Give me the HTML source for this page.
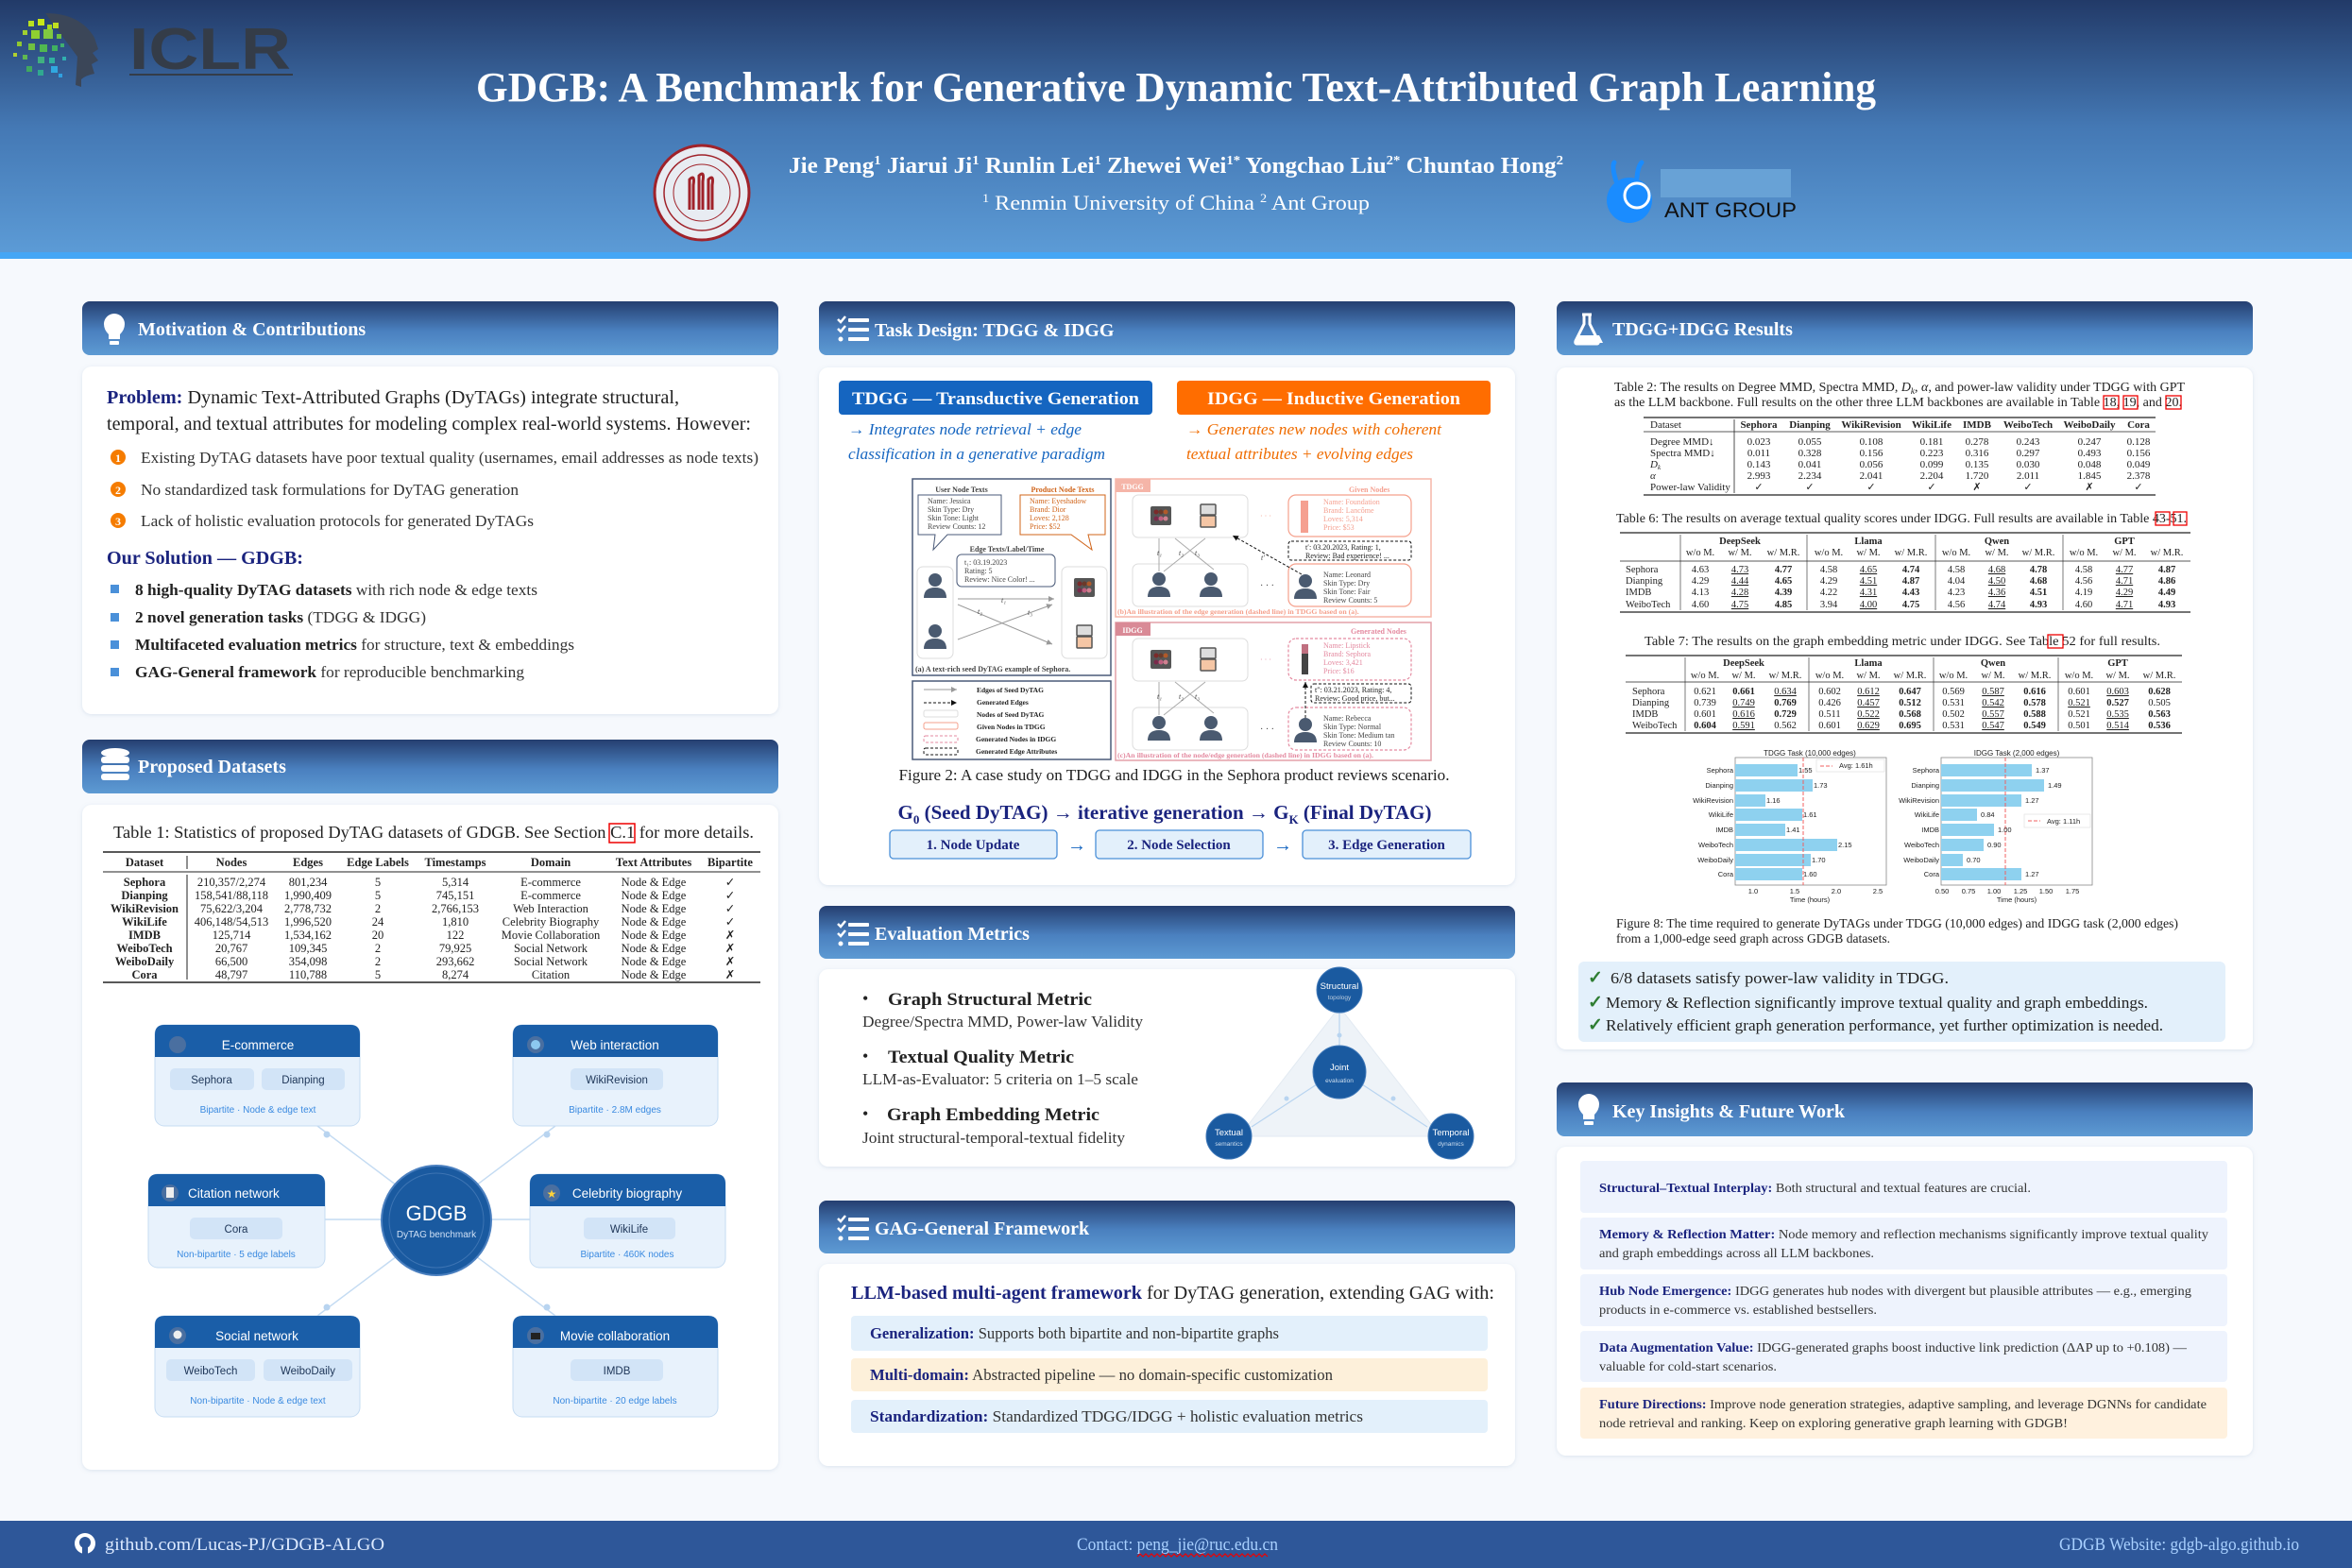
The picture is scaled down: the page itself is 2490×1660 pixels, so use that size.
<!DOCTYPE html>
<html><head><meta charset="utf-8"><style>
html,body{margin:0;padding:0;background:#f6f9fd;}
svg{display:block;}
.s{font-family:"Liberation Serif",serif;}
.a{font-family:"Liberation Sans",sans-serif;}
</style></head><body>
<svg width="2490" height="1660" viewBox="0 0 2490 1660" xmlns="http://www.w3.org/2000/svg" class="s">
<defs>
<linearGradient id="hg" x1="0" y1="0" x2="0" y2="1"><stop offset="0" stop-color="#223a68"/><stop offset="0.5" stop-color="#4478b4"/><stop offset="1" stop-color="#5c9bd6"/></linearGradient>
<linearGradient id="sg" x1="0" y1="0" x2="0" y2="1"><stop offset="0" stop-color="#253f70"/><stop offset="0.55" stop-color="#4a80bf"/><stop offset="1" stop-color="#5d9ad3"/></linearGradient>
<filter id="sh" x="-5%" y="-5%" width="110%" height="110%"><feDropShadow dx="0" dy="1" stdDeviation="2" flood-color="#8aa0c0" flood-opacity="0.25"/></filter>
<marker id="ar" markerWidth="8" markerHeight="8" refX="6" refY="3" orient="auto"><path d="M0,0 L6,3 L0,6" fill="#999"/></marker>
<marker id="ak" markerWidth="8" markerHeight="8" refX="6" refY="3" orient="auto"><path d="M0,0 L6,3 L0,6" fill="#111"/></marker>
<g id="person"><circle cx="0" cy="-9" r="7" fill="#4a5a70"/><path d="M-12,10 Q-12,-1 0,-1 Q12,-1 12,10 Z" fill="#4a5a70"/></g>
<g id="palette"><rect x="-11" y="-10" width="22" height="20" rx="2" fill="#555"/><circle cx="-5" cy="-4" r="2.5" fill="#7a2a2a"/><circle cx="0" cy="-4" r="2.5" fill="#6a3a2a"/><circle cx="5" cy="-4" r="2.5" fill="#b05a2a"/><circle cx="-5" cy="3" r="2.5" fill="#7a2a4a"/><circle cx="0" cy="3" r="2.5" fill="#c06080"/><circle cx="5" cy="3" r="2.5" fill="#d08090"/></g>
<g id="compact"><rect x="-8" y="-12" width="16" height="11" rx="1" fill="#ddd" stroke="#555" stroke-width="1.5"/><rect x="-8" y="0" width="16" height="12" rx="1" fill="#f5c6a5" stroke="#555" stroke-width="1.5"/></g>
</defs>

<!-- HEADER -->
<rect x="0" y="0" width="2490" height="268" fill="url(#hg)"/>
<rect x="0" y="267" width="2490" height="7" fill="#45a6f5"/>
<g>
<path d="M48,14 Q85,14 100,40 L104,52 L98,56 L104,64 L97,68 L100,78 Q90,80 86,84 L86,92 L80,90 L82,60 Z" fill="#3b4658"/>
<rect x="30" y="22" width="6" height="6" fill="#b8e020"/><rect x="40" y="20" width="7" height="7" fill="#c8e818"/><rect x="50" y="26" width="5" height="5" fill="#a8d820"/><rect x="56" y="24" width="6" height="6" fill="#c0e020"/>
<rect x="24" y="32" width="5" height="5" fill="#a0d030"/><rect x="33" y="32" width="9" height="9" fill="#90d030"/><rect x="46" y="31" width="10" height="10" fill="#80c840"/><rect x="60" y="36" width="5" height="5" fill="#70c040"/>
<rect x="18" y="44" width="5" height="5" fill="#90c830"/><rect x="30" y="46" width="7" height="7" fill="#70c040"/><rect x="42" y="47" width="8" height="8" fill="#50b850"/><rect x="55" y="48" width="6" height="6" fill="#40b060"/><rect x="64" y="46" width="4" height="4" fill="#40b070"/>
<rect x="14" y="56" width="4" height="4" fill="#b0d030"/><rect x="24" y="58" width="5" height="5" fill="#60b850"/><rect x="40" y="60" width="7" height="7" fill="#40b080"/><rect x="52" y="61" width="6" height="6" fill="#30b0a0"/><rect x="66" y="60" width="4" height="4" fill="#30b0b0"/>
<rect x="28" y="70" width="6" height="6" fill="#40a860"/><rect x="40" y="74" width="6" height="6" fill="#30a890"/><rect x="54" y="70" width="7" height="7" fill="#30a8e0"/><rect x="62" y="78" width="4" height="4" fill="#30a0e0"/>
<text x="137" y="73" class="a" font-size="62" font-weight="bold" fill="#343c48" textLength="171" lengthAdjust="spacingAndGlyphs">ICLR</text>
<rect x="137" y="78" width="173" height="2" fill="#343c48"/>
</g>
<text x="1245" y="107" text-anchor="middle" font-size="44" font-weight="bold" fill="#fff" textLength="1482" lengthAdjust="spacingAndGlyphs">GDGB: A Benchmark for Generative Dynamic Text-Attributed Graph Learning</text>
<g>
<circle cx="743" cy="204" r="50" fill="#e8ecf2" stroke="#a0222a" stroke-width="3"/>
<circle cx="743" cy="204" r="40" fill="none" stroke="#a0222a" stroke-width="1.5"/>
<circle cx="743" cy="204" r="30" fill="none" stroke="#a0222a" stroke-width="1"/>
<path d="M730,222 L730,190 Q736,184 734,196 L734,222 M740,222 L740,186 Q746,180 744,192 L744,222 M750,222 L750,190 Q756,184 754,196 L754,222" stroke="#a0222a" stroke-width="3" fill="none"/>
</g>
<text x="1245" y="183" text-anchor="middle" font-size="24" font-weight="bold" fill="#fff" textLength="820" lengthAdjust="spacingAndGlyphs">Jie Peng<tspan font-size="14" dy="-9">1</tspan><tspan dy="9">  Jiarui Ji</tspan><tspan font-size="14" dy="-9">1</tspan><tspan dy="9">  Runlin Lei</tspan><tspan font-size="14" dy="-9">1</tspan><tspan dy="9">  Zhewei Wei</tspan><tspan font-size="14" dy="-9">1*</tspan><tspan dy="9">  Yongchao Liu</tspan><tspan font-size="14" dy="-9">2*</tspan><tspan dy="9">  Chuntao Hong</tspan><tspan font-size="14" dy="-9">2</tspan></text>
<text x="1245" y="222" text-anchor="middle" font-size="22" fill="#fff" textLength="410" lengthAdjust="spacingAndGlyphs"><tspan font-size="13" dy="-8">1</tspan><tspan dy="8"> Renmin University of China    </tspan><tspan font-size="13" dy="-8">2</tspan><tspan dy="8"> Ant Group</tspan></text>
<path d="M1711,192 Q1706,176 1709,172 M1733,188 Q1734,176 1738,172" stroke="#1a8cff" stroke-width="5" fill="none" stroke-linecap="round"/>
<circle cx="1725" cy="212" r="24" fill="#1a8cff"/>
<circle cx="1733" cy="207" r="13" fill="none" stroke="#fff" stroke-width="3"/>
<rect x="1758" y="179" width="138" height="30" fill="#68a2d6"/>
<text x="1762" y="230" class="a" font-size="22" fill="#111" textLength="140" lengthAdjust="spacingAndGlyphs">ANT GROUP</text>

<!-- SECTION HEADERS -->
<g>
<rect x="87" y="319" width="737" height="57" rx="8" fill="url(#sg)"/>
<rect x="87" y="783" width="737" height="57" rx="8" fill="url(#sg)"/>
<rect x="867" y="319" width="737" height="57" rx="8" fill="url(#sg)"/>
<rect x="867" y="959" width="737" height="56" rx="8" fill="url(#sg)"/>
<rect x="867" y="1271" width="737" height="56" rx="8" fill="url(#sg)"/>
<rect x="1648" y="319" width="737" height="57" rx="8" fill="url(#sg)"/>
<rect x="1648" y="1146" width="737" height="57" rx="8" fill="url(#sg)"/>
</g>
<g fill="#fff">
<path d="M121,332 a11,11 0 0 1 11,11 q0,6 -5,11 l0,5 l-12,0 l0,-5 q-5,-5 -5,-11 a11,11 0 0 1 11,-11z"/><rect x="116" y="361" width="10" height="4" rx="1"/>
<path d="M121,1158 a11,11 0 0 1 11,11 q0,6 -5,11 l0,5 l-12,0 l0,-5 q-5,-5 -5,-11 a11,11 0 0 1 11,-11z" transform="translate(1561,0)"/><rect x="1677" y="1187" width="10" height="4" rx="1"/>
<ellipse cx="122" cy="797" rx="15" ry="5"/><rect x="107" y="801" width="30" height="7" rx="3"/><rect x="107" y="810" width="30" height="7" rx="3"/><rect x="107" y="819" width="30" height="7" rx="3"/>
<path d="M1675,333 l10,0 m-8,0 l0,10 l-9,18 q-1,3 2,3 l20,0 q3,0 2,-3 l-9,-18 l0,-10" stroke="#fff" stroke-width="3" fill="none"/><path d="M1671,355 l22,0 l4,8 l-30,0z"/>
</g>
<g id="chk" fill="#fff">
<path d="M887,338 l3,3 l5,-6" stroke="#fff" stroke-width="2.5" fill="none"/><rect x="898" y="337" width="22" height="4" rx="1"/>
<path d="M887,348 l3,3 l5,-6" stroke="#fff" stroke-width="2.5" fill="none"/><rect x="898" y="347" width="22" height="4" rx="1"/>
<circle cx="890" cy="359" r="2.5"/><rect x="898" y="357" width="22" height="4" rx="1"/>
</g>
<use href="#chk" transform="translate(0,640)"/>
<use href="#chk" transform="translate(0,952)"/>
<g font-size="20" font-weight="bold" fill="#fff">
<text x="146" y="355">Motivation &amp; Contributions</text>
<text x="146" y="818">Proposed Datasets</text>
<text x="926" y="356">Task Design: TDGG &amp; IDGG</text>
<text x="926" y="995">Evaluation Metrics</text>
<text x="926" y="1307">GAG-General Framework</text>
<text x="1707" y="355">TDGG+IDGG Results</text>
<text x="1707" y="1183">Key Insights &amp; Future Work</text>
</g>

<g fill="#fff" filter="url(#sh)">
<rect x="87" y="388" width="737" height="368" rx="10"/>
<rect x="87" y="852" width="737" height="704" rx="10"/>
<rect x="867" y="389" width="737" height="548" rx="10"/>
<rect x="867" y="1026" width="737" height="209" rx="10"/>
<rect x="867" y="1338" width="737" height="214" rx="10"/>
<rect x="1648" y="389" width="737" height="722" rx="10"/>
<rect x="1648" y="1214" width="737" height="327" rx="10"/>
</g>

<!-- MOTIVATION -->
<text x="113" y="427" font-size="20" fill="#222" textLength="606" lengthAdjust="spacingAndGlyphs"><tspan font-weight="bold" fill="#1a237e">Problem:</tspan> Dynamic Text-Attributed Graphs (DyTAGs) integrate structural,</text>
<text x="113" y="455" font-size="20" fill="#222" textLength="682" lengthAdjust="spacingAndGlyphs">temporal, and textual attributes for modeling complex real-world systems. However:</text>
<g font-size="17" fill="#333">
<circle cx="125" cy="484" r="8" fill="#f57c00"/><text x="125" y="489" text-anchor="middle" font-size="12" font-weight="bold" fill="#fff">1</text>
<text x="149" y="490" textLength="654" lengthAdjust="spacingAndGlyphs">Existing DyTAG datasets have poor textual quality (usernames, email addresses as node texts)</text>
<circle cx="125" cy="518" r="8" fill="#f57c00"/><text x="125" y="523" text-anchor="middle" font-size="12" font-weight="bold" fill="#fff">2</text>
<text x="149" y="524" textLength="400" lengthAdjust="spacingAndGlyphs">No standardized task formulations for DyTAG generation</text>
<circle cx="125" cy="551" r="8" fill="#f57c00"/><text x="125" y="556" text-anchor="middle" font-size="12" font-weight="bold" fill="#fff">3</text>
<text x="149" y="557" textLength="416" lengthAdjust="spacingAndGlyphs">Lack of holistic evaluation protocols for generated DyTAGs</text>
</g>
<text x="113" y="597" font-size="20" font-weight="bold" fill="#1a237e" textLength="208" lengthAdjust="spacingAndGlyphs">Our Solution — GDGB:</text>
<g font-size="17" fill="#333">
<rect x="117" y="619" width="9" height="9" fill="#4a90d9"/><text x="143" y="630" textLength="426" lengthAdjust="spacingAndGlyphs"><tspan font-weight="bold" fill="#222">8 high-quality DyTAG datasets</tspan> with rich node &amp; edge texts</text>
<rect x="117" y="649" width="9" height="9" fill="#4a90d9"/><text x="143" y="659" textLength="308" lengthAdjust="spacingAndGlyphs"><tspan font-weight="bold" fill="#222">2 novel generation tasks</tspan> (TDGG &amp; IDGG)</text>
<rect x="117" y="678" width="9" height="9" fill="#4a90d9"/><text x="143" y="688" textLength="465" lengthAdjust="spacingAndGlyphs"><tspan font-weight="bold" fill="#222">Multifaceted evaluation metrics</tspan> for structure, text &amp; embeddings</text>
<rect x="117" y="707" width="9" height="9" fill="#4a90d9"/><text x="143" y="717" textLength="412" lengthAdjust="spacingAndGlyphs"><tspan font-weight="bold" fill="#222">GAG-General framework</tspan> for reproducible benchmarking</text>
</g>

<!-- TABLE 1 -->
<text x="120" y="887" font-size="17.5" fill="#222" textLength="678" lengthAdjust="spacingAndGlyphs">Table 1: Statistics of proposed DyTAG datasets of GDGB. See Section C.1 for more details.</text>
<rect x="645" y="872" width="27" height="20" fill="none" stroke="#e00" stroke-width="1.5"/>
<line x1="109" y1="902" x2="805" y2="902" stroke="#222" stroke-width="1.5"/>
<line x1="109" y1="923" x2="805" y2="923" stroke="#222" stroke-width="1"/>
<line x1="109" y1="1040" x2="805" y2="1040" stroke="#222" stroke-width="1.5"/>
<line x1="198" y1="906" x2="198" y2="920" stroke="#222"/><line x1="198" y1="926" x2="198" y2="1037" stroke="#222"/>
<g font-size="12.5" fill="#222" text-anchor="middle">
<g font-weight="bold"><text x="153" y="917">Dataset</text><text x="245" y="917">Nodes</text><text x="326" y="917">Edges</text><text x="400" y="917">Edge Labels</text><text x="482" y="917">Timestamps</text><text x="583" y="917">Domain</text><text x="692" y="917">Text Attributes</text><text x="773" y="917">Bipartite</text></g>
<g font-weight="bold"><text x="153" y="938">Sephora</text><text x="153" y="952">Dianping</text><text x="153" y="966">WikiRevision</text><text x="153" y="980">WikiLife</text><text x="153" y="994">IMDB</text><text x="153" y="1008">WeiboTech</text><text x="153" y="1022">WeiboDaily</text><text x="153" y="1036">Cora</text></g>
<text x="245" y="938">210,357/2,274</text><text x="245" y="952">158,541/88,118</text><text x="245" y="966">75,622/3,204</text><text x="245" y="980">406,148/54,513</text><text x="245" y="994">125,714</text><text x="245" y="1008">20,767</text><text x="245" y="1022">66,500</text><text x="245" y="1036">48,797</text>
<text x="326" y="938">801,234</text><text x="326" y="952">1,990,409</text><text x="326" y="966">2,778,732</text><text x="326" y="980">1,996,520</text><text x="326" y="994">1,534,162</text><text x="326" y="1008">109,345</text><text x="326" y="1022">354,098</text><text x="326" y="1036">110,788</text>
<text x="400" y="938">5</text><text x="400" y="952">5</text><text x="400" y="966">2</text><text x="400" y="980">24</text><text x="400" y="994">20</text><text x="400" y="1008">2</text><text x="400" y="1022">2</text><text x="400" y="1036">5</text>
<text x="482" y="938">5,314</text><text x="482" y="952">745,151</text><text x="482" y="966">2,766,153</text><text x="482" y="980">1,810</text><text x="482" y="994">122</text><text x="482" y="1008">79,925</text><text x="482" y="1022">293,662</text><text x="482" y="1036">8,274</text>
<text x="583" y="938">E-commerce</text><text x="583" y="952">E-commerce</text><text x="583" y="966">Web Interaction</text><text x="583" y="980">Celebrity Biography</text><text x="583" y="994">Movie Collaboration</text><text x="583" y="1008">Social Network</text><text x="583" y="1022">Social Network</text><text x="583" y="1036">Citation</text>
<text x="692" y="938">Node &amp; Edge</text><text x="692" y="952">Node &amp; Edge</text><text x="692" y="966">Node &amp; Edge</text><text x="692" y="980">Node &amp; Edge</text><text x="692" y="994">Node &amp; Edge</text><text x="692" y="1008">Node &amp; Edge</text><text x="692" y="1022">Node &amp; Edge</text><text x="692" y="1036">Node &amp; Edge</text>
<text x="773" y="938">✓</text><text x="773" y="952">✓</text><text x="773" y="966">✓</text><text x="773" y="980">✓</text><text x="773" y="994">✗</text><text x="773" y="1008">✗</text><text x="773" y="1022">✗</text><text x="773" y="1036">✗</text>
</g>

<!-- DATASET DIAGRAM -->
<g stroke="#c4dbf2" stroke-width="1.5">
<line x1="336" y1="1192" x2="420" y2="1255"/><line x1="588" y1="1192" x2="504" y2="1255"/>
<line x1="344" y1="1291" x2="404" y2="1291"/><line x1="520" y1="1291" x2="561" y2="1291"/>
<line x1="336" y1="1393" x2="420" y2="1330"/><line x1="588" y1="1393" x2="504" y2="1330"/>
</g>
<g fill="#b8d4f0"><circle cx="346" cy="1201" r="3.5"/><circle cx="579" cy="1201" r="3.5"/><circle cx="336" cy="1291" r="3.5"/><circle cx="588" cy="1291" r="3.5"/><circle cx="346" cy="1384" r="3.5"/><circle cx="579" cy="1384" r="3.5"/></g>
<circle cx="462" cy="1292" r="58" fill="#1a5aa0" stroke="#4a7fbf" stroke-width="2"/>
<circle cx="462" cy="1292" r="50" fill="none" stroke="#3d74b3" stroke-width="1"/>
<text x="462" y="1292" text-anchor="middle" class="a" font-size="22" fill="#fff">GDGB</text>
<text x="462" y="1310" text-anchor="middle" class="a" font-size="10" fill="#cfe0f5">DyTAG benchmark</text>

<g class="a">
<rect x="164" y="1085" width="217" height="107" rx="10" fill="#e8f2fc" stroke="#c6dcf2"/>
<path d="M164,1119 L164,1095 Q164,1085 174,1085 L371,1085 Q381,1085 381,1095 L381,1119 Z" fill="#1a5ea8"/>
<circle cx="188" cy="1106" r="9" fill="#4a6fa0"/>
<text x="273" y="1111" text-anchor="middle" font-size="13.5" fill="#fff">E-commerce</text>
<rect x="180" y="1131" width="89" height="23" rx="5" fill="#d2e4f7"/><text x="224" y="1147" text-anchor="middle" font-size="11.5" fill="#1d3557">Sephora</text>
<rect x="277" y="1131" width="88" height="23" rx="5" fill="#d2e4f7"/><text x="321" y="1147" text-anchor="middle" font-size="11.5" fill="#1d3557">Dianping</text>
<text x="273" y="1178" text-anchor="middle" font-size="10" fill="#3a8ae0">Bipartite · Node &amp; edge text</text>
<rect x="543" y="1085" width="217" height="107" rx="10" fill="#e8f2fc" stroke="#c6dcf2"/>
<path d="M543,1119 L543,1095 Q543,1085 553,1085 L750,1085 Q760,1085 760,1095 L760,1119 Z" fill="#1a5ea8"/>
<circle cx="567" cy="1106" r="9" fill="#4a6fa0"/><circle cx="567" cy="1106" r="5" fill="#8cc8f0"/>
<text x="651" y="1111" text-anchor="middle" font-size="13.5" fill="#fff">Web interaction</text>
<rect x="604" y="1131" width="98" height="23" rx="5" fill="#d2e4f7"/><text x="653" y="1147" text-anchor="middle" font-size="11.5" fill="#1d3557">WikiRevision</text>
<text x="651" y="1178" text-anchor="middle" font-size="10" fill="#3a8ae0">Bipartite · 2.8M edges</text>
<rect x="157" y="1243" width="187" height="99" rx="10" fill="#e8f2fc" stroke="#c6dcf2"/>
<path d="M157,1277 L157,1253 Q157,1243 167,1243 L334,1243 Q344,1243 344,1253 L344,1277 Z" fill="#1a5ea8"/>
<circle cx="180" cy="1263" r="9" fill="#4a6fa0"/><rect x="176" y="1257" width="8" height="11" fill="#eee"/>
<text x="199" y="1268" font-size="13.5" fill="#fff">Citation network</text>
<rect x="201" y="1289" width="98" height="23" rx="5" fill="#d2e4f7"/><text x="250" y="1305" text-anchor="middle" font-size="11.5" fill="#1d3557">Cora</text>
<text x="250" y="1331" text-anchor="middle" font-size="10" fill="#3a8ae0">Non-bipartite · 5 edge labels</text>
<rect x="561" y="1243" width="207" height="99" rx="10" fill="#e8f2fc" stroke="#c6dcf2"/>
<path d="M561,1277 L561,1253 Q561,1243 571,1243 L758,1243 Q768,1243 768,1253 L768,1277 Z" fill="#1a5ea8"/>
<circle cx="584" cy="1263" r="9" fill="#4a6fa0"/><text x="584" y="1268" text-anchor="middle" font-size="12" fill="#ffd23a">★</text>
<text x="664" y="1268" text-anchor="middle" font-size="13.5" fill="#fff">Celebrity biography</text>
<rect x="618" y="1289" width="97" height="23" rx="5" fill="#d2e4f7"/><text x="666" y="1305" text-anchor="middle" font-size="11.5" fill="#1d3557">WikiLife</text>
<text x="664" y="1331" text-anchor="middle" font-size="10" fill="#3a8ae0">Bipartite · 460K nodes</text>
<rect x="164" y="1393" width="217" height="107" rx="10" fill="#e8f2fc" stroke="#c6dcf2"/>
<path d="M164,1427 L164,1403 Q164,1393 174,1393 L371,1393 Q381,1393 381,1403 L381,1427 Z" fill="#1a5ea8"/>
<circle cx="188" cy="1414" r="9" fill="#4a6fa0"/><circle cx="188" cy="1413" r="4.5" fill="#eee"/>
<text x="272" y="1419" text-anchor="middle" font-size="13.5" fill="#fff">Social network</text>
<rect x="176" y="1439" width="94" height="23" rx="5" fill="#d2e4f7"/><text x="223" y="1455" text-anchor="middle" font-size="11.5" fill="#1d3557">WeiboTech</text>
<rect x="279" y="1439" width="94" height="23" rx="5" fill="#d2e4f7"/><text x="326" y="1455" text-anchor="middle" font-size="11.5" fill="#1d3557">WeiboDaily</text>
<text x="273" y="1486" text-anchor="middle" font-size="10" fill="#3a8ae0">Non-bipartite · Node &amp; edge text</text>
<rect x="543" y="1393" width="217" height="107" rx="10" fill="#e8f2fc" stroke="#c6dcf2"/>
<path d="M543,1427 L543,1403 Q543,1393 553,1393 L750,1393 Q760,1393 760,1403 L760,1427 Z" fill="#1a5ea8"/>
<circle cx="567" cy="1414" r="9" fill="#4a6fa0"/><rect x="562" y="1411" width="10" height="7" fill="#222"/>
<text x="651" y="1419" text-anchor="middle" font-size="13.5" fill="#fff">Movie collaboration</text>
<rect x="604" y="1439" width="98" height="23" rx="5" fill="#d2e4f7"/><text x="653" y="1455" text-anchor="middle" font-size="11.5" fill="#1d3557">IMDB</text>
<text x="651" y="1486" text-anchor="middle" font-size="10" fill="#3a8ae0">Non-bipartite · 20 edge labels</text>
</g>

<!-- TASK DESIGN -->
<rect x="888" y="403" width="332" height="36" rx="4" fill="#1565c0"/>
<text x="1054" y="428" text-anchor="middle" font-size="19" font-weight="bold" fill="#fff" textLength="304" lengthAdjust="spacingAndGlyphs">TDGG — Transductive Generation</text>
<rect x="1246" y="403" width="332" height="36" rx="4" fill="#ff6d00"/>
<text x="1412" y="428" text-anchor="middle" font-size="19" font-weight="bold" fill="#fff" textLength="268" lengthAdjust="spacingAndGlyphs">IDGG — Inductive Generation</text>
<g font-size="17" font-style="italic">
<text x="898" y="460" fill="#1565c0" textLength="247" lengthAdjust="spacingAndGlyphs">→ Integrates node retrieval + edge</text>
<text x="898" y="486" fill="#1565c0" textLength="272" lengthAdjust="spacingAndGlyphs">classification in a generative paradigm</text>
<text x="1256" y="460" fill="#ef6c00" textLength="270" lengthAdjust="spacingAndGlyphs">→ Generates new nodes with coherent</text>
<text x="1256" y="486" fill="#ef6c00" textLength="240" lengthAdjust="spacingAndGlyphs">textual attributes + evolving edges</text>
</g>

<!-- FIGURE 2 -->
<g font-size="8" fill="#444">
<rect x="966" y="507" width="210" height="208" fill="none" stroke="#4a5a78" stroke-width="1.5"/>
<text x="1018" y="521" text-anchor="middle" font-weight="bold" fill="#444">User Node Texts</text>
<text x="1125" y="521" text-anchor="middle" font-weight="bold" fill="#d0641a">Product Node Texts</text>
<path d="M972,524 h88 v42 h-57 l-15,16 l2,-16 h-18 z" fill="#fff" stroke="#4a5a78"/>
<text x="982" y="533">Name: Jessica</text><text x="982" y="542">Skin Type: Dry</text><text x="982" y="551">Skin Tone: Light</text><text x="982" y="560">Review Counts: 12</text>
<path d="M1080,524 h90 v42 h-18 l4,16 l-22,-16 h-54 z" fill="#fff" stroke="#d0641a"/>
<g fill="#d0641a"><text x="1090" y="533">Name: Eyeshadow</text><text x="1090" y="542">Brand: Dior</text><text x="1090" y="551">Loves: 2,128</text><text x="1090" y="560">Price: $52</text></g>
<text x="1066" y="584" text-anchor="middle" font-weight="bold">Edge Texts/Label/Time</text>
<rect x="1013" y="587" width="104" height="34" rx="5" fill="#fff" stroke="#4a5a78"/>
<text x="1021" y="598">t₁: 03.19.2023</text><text x="1021" y="607">Rating: 5</text><text x="1021" y="616">Review: Nice Color! ...</text>
<rect x="971" y="600" width="38" height="97" rx="6" fill="none" stroke="#ddd"/>
<rect x="1124" y="600" width="48" height="97" rx="6" fill="none" stroke="#ddd"/>
<use href="#person" x="990" y="623"/><use href="#person" x="990" y="677"/>
<use href="#palette" x="1148" y="622"/><use href="#compact" x="1148" y="674"/>
<g stroke="#999" stroke-width="1"><line x1="1014" y1="634" x2="1116" y2="634" marker-end="url(#ar)"/><line x1="1014" y1="640" x2="1114" y2="682" marker-end="url(#ar)"/><line x1="1014" y1="677" x2="1114" y2="640" marker-end="url(#ar)"/></g>
<text x="1060" y="638" font-size="8" font-style="italic">t₁</text><text x="1035" y="650" font-style="italic">t₂</text><text x="1088" y="651" font-style="italic">t₃</text>
<text x="969" y="711" font-size="8" font-weight="bold">(a) A text-rich seed DyTAG example of Sephora.</text>

<rect x="966" y="721" width="210" height="83" fill="none" stroke="#4a5a78" stroke-width="1.5"/>
<line x1="978" y1="730" x2="1013" y2="730" stroke="#999" marker-end="url(#ar)"/>
<line x1="978" y1="744" x2="1013" y2="744" stroke="#111" stroke-dasharray="3,2" marker-end="url(#ak)"/>
<rect x="978" y="752" width="36" height="7" rx="2" fill="none" stroke="#ddd"/>
<rect x="978" y="765" width="36" height="7" rx="2" fill="none" stroke="#f5a08c"/>
<rect x="978" y="779" width="36" height="7" rx="2" fill="none" stroke="#e48aa0" stroke-dasharray="3,2"/>
<rect x="978" y="792" width="36" height="7" rx="2" fill="none" stroke="#111" stroke-dasharray="3,2"/>
<g font-weight="bold" font-size="7.5" fill="#222"><text x="1034" y="733">Edges of Seed DyTAG</text><text x="1034" y="746">Generated Edges</text><text x="1034" y="759">Nodes of Seed DyTAG</text><text x="1034" y="772">Given Nodes in TDGG</text><text x="1033" y="785">Generated Nodes in IDGG</text><text x="1033" y="798">Generated Edge Attributes</text></g>

<rect x="1181" y="507" width="334" height="146" fill="none" stroke="#f5b5a8" stroke-width="1.5"/>
<rect x="1181" y="507" width="37" height="14" fill="#f5b5a8"/><text x="1199" y="518" text-anchor="middle" fill="#fff" font-weight="bold">TDGG</text>
<rect x="1199" y="524" width="122" height="45" rx="6" fill="none" stroke="#ddd"/>
<rect x="1199" y="597" width="122" height="45" rx="6" fill="none" stroke="#ddd"/>
<use href="#palette" x="1229" y="546"/><use href="#compact" x="1279" y="546"/>
<use href="#person" x="1227" y="622"/><use href="#person" x="1282" y="622"/>
<g stroke="#aaa"><line x1="1227" y1="605" x2="1227" y2="570"/><line x1="1232" y1="605" x2="1276" y2="570"/><line x1="1244" y1="570" x2="1285" y2="603"/></g>
<text x="1225" y="588" font-style="italic">t₁</text><text x="1248" y="588" font-style="italic">t₂</text><text x="1265" y="588" font-style="italic">t₃</text>
<text x="1334" y="549" fill="#f5a08c">· · ·</text><text x="1334" y="623" font-size="10">· · ·</text>
<rect x="1364" y="524" width="130" height="44" rx="8" fill="none" stroke="#f5a08c" stroke-width="1.2"/>
<rect x="1377" y="530" width="8" height="34" fill="#f5a090"/>
<g fill="#f5a090"><text x="1428" y="521" font-weight="bold">Given Nodes</text><text x="1401" y="534">Name: Foundation</text><text x="1401" y="543">Brand: Lancôme</text><text x="1401" y="552">Loves: 5,314</text><text x="1401" y="561">Price: $53</text></g>
<rect x="1364" y="573" width="130" height="20" rx="3" fill="none" stroke="#111" stroke-dasharray="3,2"/>
<text x="1382" y="582" fill="#222">t′: 03.20.2023, Rating: 1,</text><text x="1382" y="591" fill="#222">Review: Bad experience! ...</text>
<rect x="1364" y="597" width="130" height="45" rx="8" fill="none" stroke="#f5a08c" stroke-width="1.2"/>
<use href="#person" x="1382" y="624"/>
<text x="1401" y="611">Name: Leonard</text><text x="1401" y="620">Skin Type: Dry</text><text x="1401" y="629">Skin Tone: Fair</text><text x="1401" y="638">Review Counts: 5</text>
<line x1="1378" y1="608" x2="1305" y2="567" stroke="#111" stroke-dasharray="3,2" marker-end="url(#ak)"/>
<text x="1335" y="593" font-style="italic">t′</text>
<text x="1183" y="650" font-size="7.8" fill="#f5a08c" font-weight="bold">(b)An illustration of the edge generation (dashed line) in TDGG based on (a).</text>

<rect x="1181" y="659" width="334" height="146" fill="none" stroke="#e4a0a8" stroke-width="1.5"/>
<rect x="1181" y="659" width="37" height="14" fill="#d98a96"/><text x="1199" y="670" text-anchor="middle" fill="#fff" font-weight="bold">IDGG</text>
<rect x="1199" y="676" width="122" height="45" rx="6" fill="none" stroke="#ddd"/>
<rect x="1199" y="749" width="122" height="45" rx="6" fill="none" stroke="#ddd"/>
<use href="#palette" x="1229" y="698"/><use href="#compact" x="1279" y="698"/>
<use href="#person" x="1227" y="774"/><use href="#person" x="1282" y="774"/>
<g stroke="#aaa"><line x1="1227" y1="757" x2="1227" y2="722"/><line x1="1232" y1="757" x2="1276" y2="722"/><line x1="1244" y1="722" x2="1285" y2="755"/></g>
<text x="1225" y="740" font-style="italic">t₁</text><text x="1248" y="740" font-style="italic">t₂</text><text x="1265" y="740" font-style="italic">t₃</text>
<text x="1334" y="701" fill="#e48aa0">· · ·</text><text x="1334" y="775" font-size="10">· · ·</text>
<rect x="1364" y="676" width="130" height="44" rx="8" fill="none" stroke="#e48aa0" stroke-dasharray="3,2" stroke-width="1.2"/>
<rect x="1378" y="682" width="7" height="32" fill="#444"/><rect x="1378" y="682" width="7" height="10" fill="#c07080"/>
<g fill="#e48aa0"><text x="1430" y="671" font-weight="bold">Generated Nodes</text><text x="1401" y="686">Name: Lipstick</text><text x="1401" y="695">Brand: Sephora</text><text x="1401" y="704">Loves: 3,421</text><text x="1401" y="713">Price: $16</text></g>
<rect x="1388" y="724" width="106" height="20" rx="3" fill="none" stroke="#111" stroke-dasharray="3,2"/>
<text x="1392" y="733" fill="#222">t″: 03.21.2023, Rating: 4,</text><text x="1392" y="742" fill="#222">Review: Good price, but...</text>
<rect x="1364" y="749" width="130" height="45" rx="8" fill="none" stroke="#e48aa0" stroke-dasharray="3,2" stroke-width="1.2"/>
<use href="#person" x="1382" y="776"/>
<text x="1401" y="763">Name: Rebecca</text><text x="1401" y="772">Skin Type: Normal</text><text x="1401" y="781">Skin Tone: Medium tan</text><text x="1401" y="790">Review Counts: 10</text>
<line x1="1382" y1="760" x2="1382" y2="722" stroke="#111" stroke-dasharray="3,2" marker-end="url(#ak)"/>
<text x="1183" y="802" font-size="7.8" fill="#e48aa0" font-weight="bold">(c)An illustration of the node/edge generation (dashed line) in IDGG based on (a).</text>
</g>
<text x="1243" y="826" text-anchor="middle" font-size="16.5" fill="#222" textLength="583" lengthAdjust="spacingAndGlyphs">Figure 2: A case study on TDGG and IDGG in the Sephora product reviews scenario.</text>
<text x="1233" y="867" text-anchor="middle" font-size="21" font-weight="bold" fill="#1a237e" textLength="565" lengthAdjust="spacingAndGlyphs">G<tspan font-size="13" dy="5">0</tspan><tspan dy="-5"> (Seed DyTAG)  →  iterative generation  →  G</tspan><tspan font-size="13" dy="5">K</tspan><tspan dy="-5"> (Final DyTAG)</tspan></text>
<g font-size="15" font-weight="bold" fill="#1a237e" text-anchor="middle">
<rect x="942" y="879" width="177" height="30" rx="4" fill="#e3f0fb" stroke="#4a8fd8" stroke-width="1.3"/><text x="1030" y="899">1. Node Update</text>
<rect x="1160" y="879" width="177" height="30" rx="4" fill="#e3f0fb" stroke="#4a8fd8" stroke-width="1.3"/><text x="1248" y="899">2. Node Selection</text>
<rect x="1379" y="879" width="178" height="30" rx="4" fill="#e3f0fb" stroke="#4a8fd8" stroke-width="1.3"/><text x="1468" y="899">3. Edge Generation</text>
<text x="1140" y="901" fill="#1565c0" font-size="20">→</text><text x="1358" y="901" fill="#1565c0" font-size="20">→</text>
</g>

<!-- EVALUATION METRICS -->
<g fill="#222">
<text x="913" y="1063" font-size="18">•</text><text x="940" y="1064" font-size="19" font-weight="bold" textLength="216" lengthAdjust="spacingAndGlyphs">Graph Structural Metric</text>
<text x="913" y="1087" font-size="16.5" fill="#333" textLength="297" lengthAdjust="spacingAndGlyphs">Degree/Spectra MMD, Power-law Validity</text>
<text x="913" y="1124" font-size="18">•</text><text x="940" y="1125" font-size="19" font-weight="bold" textLength="197" lengthAdjust="spacingAndGlyphs">Textual Quality Metric</text>
<text x="913" y="1148" font-size="16.5" fill="#333" textLength="292" lengthAdjust="spacingAndGlyphs">LLM-as-Evaluator: 5 criteria on 1–5 scale</text>
<text x="913" y="1185" font-size="18">•</text><text x="939" y="1186" font-size="19" font-weight="bold" textLength="225" lengthAdjust="spacingAndGlyphs">Graph Embedding Metric</text>
<text x="913" y="1210" font-size="16.5" fill="#333" textLength="278" lengthAdjust="spacingAndGlyphs">Joint structural-temporal-textual fidelity</text>
</g>
<path d="M1418,1066 L1312,1203 L1525,1203 Z" fill="#eef3f8" stroke="#e2eaf2"/>
<g stroke="#b8d4f0" stroke-width="1.2"><line x1="1418" y1="1072" x2="1418" y2="1107"/><line x1="1394" y1="1148" x2="1325" y2="1193"/><line x1="1442" y1="1148" x2="1511" y2="1193"/></g>
<g fill="#b8d4f0"><circle cx="1418" cy="1096" r="2.5"/><circle cx="1362" cy="1163" r="2.5"/><circle cx="1475" cy="1163" r="2.5"/></g>
<g class="a" text-anchor="middle" fill="#fff">
<circle cx="1418" cy="1048" r="24" fill="#1a5aa0" stroke="#3f78b8"/><text x="1418" y="1047" font-size="9.5">Structural</text><text x="1418" y="1058" font-size="6.5" fill="#bcd">topology</text>
<circle cx="1418" cy="1135" r="28" fill="#1a5aa0" stroke="#3f78b8"/><text x="1418" y="1133" font-size="9.5">Joint</text><text x="1418" y="1146" font-size="6.5" fill="#cde">evaluation</text>
<circle cx="1301" cy="1203" r="24" fill="#1a5aa0" stroke="#3f78b8"/><text x="1301" y="1202" font-size="9.5">Textual</text><text x="1301" y="1213" font-size="6.5" fill="#cde">semantics</text>
<circle cx="1536" cy="1203" r="24" fill="#1a5aa0" stroke="#3f78b8"/><text x="1536" y="1202" font-size="9.5">Temporal</text><text x="1536" y="1213" font-size="6.5" fill="#cde">dynamics</text>
</g>

<!-- GAG -->
<text x="901" y="1375" font-size="19.5" fill="#222" textLength="681" lengthAdjust="spacingAndGlyphs"><tspan font-weight="bold" fill="#1a237e">LLM-based multi-agent framework</tspan> for DyTAG generation, extending GAG with:</text>
<rect x="901" y="1393" width="674" height="37" rx="4" fill="#e3f0fb"/>
<rect x="901" y="1438" width="674" height="35" rx="4" fill="#fdf0da"/>
<rect x="901" y="1482" width="674" height="35" rx="4" fill="#e3f0fb"/>
<g font-size="16.5" fill="#333">
<text x="921" y="1417" textLength="433" lengthAdjust="spacingAndGlyphs"><tspan font-weight="bold" fill="#1a237e">Generalization:</tspan> Supports both bipartite and non-bipartite graphs</text>
<text x="921" y="1461" textLength="490" lengthAdjust="spacingAndGlyphs"><tspan font-weight="bold" fill="#1a237e">Multi-domain:</tspan> Abstracted pipeline — no domain-specific customization</text>
<text x="921" y="1505" textLength="522" lengthAdjust="spacingAndGlyphs"><tspan font-weight="bold" fill="#1a237e">Standardization:</tspan> Standardized TDGG/IDGG + holistic evaluation metrics</text>
</g>

<!-- RESULTS TEXT -->
<g font-size="13.5" fill="#222">
<text x="1709" y="414" textLength="604" lengthAdjust="spacingAndGlyphs">Table 2: The results on Degree MMD, Spectra MMD, <tspan font-style="italic">D</tspan><tspan font-size="9" font-style="italic" dy="3">k</tspan><tspan dy="-3">, </tspan><tspan font-style="italic">α</tspan>, and power-law validity under TDGG with GPT</text>
<text x="1709" y="430" textLength="601" lengthAdjust="spacingAndGlyphs">as the LLM backbone. Full results on the other three LLM backbones are available in Table 18, 19, and 20.</text>
<text x="1711" y="553" textLength="604" lengthAdjust="spacingAndGlyphs">Table 6: The results on average textual quality scores under IDGG. Full results are available in Table 43-51.</text>
<text x="2014" y="683" text-anchor="middle" textLength="546" lengthAdjust="spacingAndGlyphs">Table 7: The results on the graph embedding metric under IDGG. See Table 52 for full results.</text>
</g>
<g fill="none" stroke="#e00" stroke-width="1.3"><rect x="2227" y="419" width="16" height="14"/><rect x="2248" y="419" width="15" height="14"/><rect x="2293" y="419" width="16" height="14"/><rect x="2282" y="542" width="15" height="14"/><rect x="2301" y="542" width="14" height="14"/><rect x="2168" y="672" width="16" height="14"/></g>
<g stroke="#222"><line x1="1740" y1="442" x2="2282" y2="442" stroke-width="1.3"/><line x1="1740" y1="457" x2="2282" y2="457" stroke-width="0.8"/><line x1="1740" y1="524" x2="2282" y2="524" stroke-width="1.3"/><line x1="1836" y1="444" x2="1836" y2="522" stroke-width="0.8"/></g>
<g font-size="11" fill="#222" text-anchor="middle">
<text x="1747" y="453" text-anchor="start">Dataset</text>
<g font-weight="bold"><text x="1862" y="453">Sephora</text><text x="1916" y="453">Dianping</text><text x="1981" y="453">WikiRevision</text><text x="2045" y="453">WikiLife</text><text x="2093" y="453">IMDB</text><text x="2147" y="453">WeiboTech</text><text x="2212" y="453">WeiboDaily</text><text x="2264" y="453">Cora</text></g>
<g text-anchor="start"><text x="1747" y="471">Degree MMD↓</text><text x="1747" y="483">Spectra MMD↓</text><text x="1747" y="495" font-style="italic">D<tspan font-size="7" dy="2">k</tspan></text><text x="1747" y="507" font-style="italic">α</text><text x="1747" y="519">Power-law Validity</text></g>
<text x="1862" y="471">0.023</text><text x="1916" y="471">0.055</text><text x="1981" y="471">0.108</text><text x="2045" y="471">0.181</text><text x="2093" y="471">0.278</text><text x="2147" y="471">0.243</text><text x="2212" y="471">0.247</text><text x="2264" y="471">0.128</text>
<text x="1862" y="483">0.011</text><text x="1916" y="483">0.328</text><text x="1981" y="483">0.156</text><text x="2045" y="483">0.223</text><text x="2093" y="483">0.316</text><text x="2147" y="483">0.297</text><text x="2212" y="483">0.493</text><text x="2264" y="483">0.156</text>
<text x="1862" y="495">0.143</text><text x="1916" y="495">0.041</text><text x="1981" y="495">0.056</text><text x="2045" y="495">0.099</text><text x="2093" y="495">0.135</text><text x="2147" y="495">0.030</text><text x="2212" y="495">0.048</text><text x="2264" y="495">0.049</text>
<text x="1862" y="507">2.993</text><text x="1916" y="507">2.234</text><text x="1981" y="507">2.041</text><text x="2045" y="507">2.204</text><text x="2093" y="507">1.720</text><text x="2147" y="507">2.011</text><text x="2212" y="507">1.845</text><text x="2264" y="507">2.378</text>
<text x="1862" y="519">✓</text><text x="1916" y="519">✓</text><text x="1981" y="519">✓</text><text x="2045" y="519">✓</text><text x="2093" y="519">✗</text><text x="2147" y="519">✓</text><text x="2212" y="519">✗</text><text x="2264" y="519">✓</text>
</g>

<!-- TABLE 6 -->
<g stroke="#222"><line x1="1715" y1="564" x2="2319" y2="564" stroke-width="1.3"/><line x1="1715" y1="594" x2="2319" y2="594" stroke-width="0.8"/><line x1="1715" y1="648" x2="2319" y2="648" stroke-width="1.3"/>
<g stroke-width="0.6"><line x1="1779" y1="566" x2="1779" y2="646"/><line x1="1913" y1="566" x2="1913" y2="646"/><line x1="2049" y1="566" x2="2049" y2="646"/><line x1="2184" y1="566" x2="2184" y2="646"/></g></g>
<g font-size="10.5" fill="#222" text-anchor="middle">
<g font-weight="bold"><text x="1842" y="576">DeepSeek</text><text x="1978" y="576">Llama</text><text x="2114" y="576">Qwen</text><text x="2249" y="576">GPT</text></g>
<text x="1800" y="588">w/o M.</text><text x="1842" y="588">w/ M.</text><text x="1888" y="588">w/ M.R.</text><text x="1936" y="588">w/o M.</text><text x="1978" y="588">w/ M.</text><text x="2023" y="588">w/ M.R.</text><text x="2071" y="588">w/o M.</text><text x="2114" y="588">w/ M.</text><text x="2158" y="588">w/ M.R.</text><text x="2206" y="588">w/o M.</text><text x="2249" y="588">w/ M.</text><text x="2294" y="588">w/ M.R.</text>
<g text-anchor="start"><text x="1721" y="606">Sephora</text><text x="1721" y="618">Dianping</text><text x="1721" y="630">IMDB</text><text x="1721" y="643">WeiboTech</text></g>
<text x="1800" y="606">4.63</text><text x="1842" y="606" text-decoration="underline">4.73</text><text x="1888" y="606" font-weight="bold">4.77</text><text x="1936" y="606">4.58</text><text x="1978" y="606" text-decoration="underline">4.65</text><text x="2023" y="606" font-weight="bold">4.74</text><text x="2071" y="606">4.58</text><text x="2114" y="606" text-decoration="underline">4.68</text><text x="2158" y="606" font-weight="bold">4.78</text><text x="2206" y="606">4.58</text><text x="2249" y="606" text-decoration="underline">4.77</text><text x="2294" y="606" font-weight="bold">4.87</text>
<text x="1800" y="618">4.29</text><text x="1842" y="618" text-decoration="underline">4.44</text><text x="1888" y="618" font-weight="bold">4.65</text><text x="1936" y="618">4.29</text><text x="1978" y="618" text-decoration="underline">4.51</text><text x="2023" y="618" font-weight="bold">4.87</text><text x="2071" y="618">4.04</text><text x="2114" y="618" text-decoration="underline">4.50</text><text x="2158" y="618" font-weight="bold">4.68</text><text x="2206" y="618">4.56</text><text x="2249" y="618" text-decoration="underline">4.71</text><text x="2294" y="618" font-weight="bold">4.86</text>
<text x="1800" y="630">4.13</text><text x="1842" y="630" text-decoration="underline">4.28</text><text x="1888" y="630" font-weight="bold">4.39</text><text x="1936" y="630">4.22</text><text x="1978" y="630" text-decoration="underline">4.31</text><text x="2023" y="630" font-weight="bold">4.43</text><text x="2071" y="630">4.23</text><text x="2114" y="630" text-decoration="underline">4.36</text><text x="2158" y="630" font-weight="bold">4.51</text><text x="2206" y="630">4.19</text><text x="2249" y="630" text-decoration="underline">4.29</text><text x="2294" y="630" font-weight="bold">4.49</text>
<text x="1800" y="643">4.60</text><text x="1842" y="643" text-decoration="underline">4.75</text><text x="1888" y="643" font-weight="bold">4.85</text><text x="1936" y="643">3.94</text><text x="1978" y="643" text-decoration="underline">4.00</text><text x="2023" y="643" font-weight="bold">4.75</text><text x="2071" y="643">4.56</text><text x="2114" y="643" text-decoration="underline">4.74</text><text x="2158" y="643" font-weight="bold">4.93</text><text x="2206" y="643">4.60</text><text x="2249" y="643" text-decoration="underline">4.71</text><text x="2294" y="643" font-weight="bold">4.93</text>
</g>

<!-- TABLE 7 -->
<g stroke="#222"><line x1="1721" y1="694" x2="2310" y2="694" stroke-width="1.3"/><line x1="1721" y1="722" x2="2310" y2="722" stroke-width="0.8"/><line x1="1721" y1="776" x2="2310" y2="776" stroke-width="1.3"/>
<g stroke-width="0.6"><line x1="1784" y1="696" x2="1784" y2="774"/><line x1="1915" y1="696" x2="1915" y2="774"/><line x1="2047" y1="696" x2="2047" y2="774"/><line x1="2179" y1="696" x2="2179" y2="774"/></g></g>
<g font-size="10.5" fill="#222" text-anchor="middle">
<g font-weight="bold"><text x="1846" y="705">DeepSeek</text><text x="1978" y="705">Llama</text><text x="2110" y="705">Qwen</text><text x="2242" y="705">GPT</text></g>
<text x="1805" y="718">w/o M.</text><text x="1846" y="718">w/ M.</text><text x="1890" y="718">w/ M.R.</text><text x="1937" y="718">w/o M.</text><text x="1978" y="718">w/ M.</text><text x="2022" y="718">w/ M.R.</text><text x="2068" y="718">w/o M.</text><text x="2110" y="718">w/ M.</text><text x="2154" y="718">w/ M.R.</text><text x="2201" y="718">w/o M.</text><text x="2242" y="718">w/ M.</text><text x="2286" y="718">w/ M.R.</text>
<g text-anchor="start"><text x="1728" y="735">Sephora</text><text x="1728" y="747">Dianping</text><text x="1728" y="759">IMDB</text><text x="1728" y="771">WeiboTech</text></g>
<text x="1805" y="735">0.621</text><text x="1846" y="735" font-weight="bold">0.661</text><text x="1890" y="735" text-decoration="underline">0.634</text><text x="1937" y="735">0.602</text><text x="1978" y="735" text-decoration="underline">0.612</text><text x="2022" y="735" font-weight="bold">0.647</text><text x="2068" y="735">0.569</text><text x="2110" y="735" text-decoration="underline">0.587</text><text x="2154" y="735" font-weight="bold">0.616</text><text x="2201" y="735">0.601</text><text x="2242" y="735" text-decoration="underline">0.603</text><text x="2286" y="735" font-weight="bold">0.628</text>
<text x="1805" y="747">0.739</text><text x="1846" y="747" text-decoration="underline">0.749</text><text x="1890" y="747" font-weight="bold">0.769</text><text x="1937" y="747">0.426</text><text x="1978" y="747" text-decoration="underline">0.457</text><text x="2022" y="747" font-weight="bold">0.512</text><text x="2068" y="747">0.531</text><text x="2110" y="747" text-decoration="underline">0.542</text><text x="2154" y="747" font-weight="bold">0.578</text><text x="2201" y="747" text-decoration="underline">0.521</text><text x="2242" y="747" font-weight="bold">0.527</text><text x="2286" y="747">0.505</text>
<text x="1805" y="759">0.601</text><text x="1846" y="759" text-decoration="underline">0.616</text><text x="1890" y="759" font-weight="bold">0.729</text><text x="1937" y="759">0.511</text><text x="1978" y="759" text-decoration="underline">0.522</text><text x="2022" y="759" font-weight="bold">0.568</text><text x="2068" y="759">0.502</text><text x="2110" y="759" text-decoration="underline">0.557</text><text x="2154" y="759" font-weight="bold">0.588</text><text x="2201" y="759">0.521</text><text x="2242" y="759" text-decoration="underline">0.535</text><text x="2286" y="759" font-weight="bold">0.563</text>
<text x="1805" y="771" font-weight="bold">0.604</text><text x="1846" y="771" text-decoration="underline">0.591</text><text x="1890" y="771">0.562</text><text x="1937" y="771">0.601</text><text x="1978" y="771" text-decoration="underline">0.629</text><text x="2022" y="771" font-weight="bold">0.695</text><text x="2068" y="771">0.531</text><text x="2110" y="771" text-decoration="underline">0.547</text><text x="2154" y="771" font-weight="bold">0.549</text><text x="2201" y="771">0.501</text><text x="2242" y="771" text-decoration="underline">0.514</text><text x="2286" y="771" font-weight="bold">0.536</text>
</g>

<!-- CHARTS -->
<g class="a" font-size="7.5" fill="#222">
<text x="1916" y="800" text-anchor="middle" font-size="8">TDGG Task (10,000 edges)</text>
<rect x="1837" y="802" width="160" height="135" fill="#fff" stroke="#888" stroke-width="0.8"/>
<g fill="#8ed1ef">
<rect x="1837" y="809" width="66" height="13"/><rect x="1837" y="825" width="82" height="13"/><rect x="1837" y="841" width="32" height="13"/><rect x="1837" y="856" width="71" height="13"/><rect x="1837" y="872" width="53" height="13"/><rect x="1837" y="888" width="108" height="13"/><rect x="1837" y="904" width="80" height="13"/><rect x="1837" y="919" width="71" height="13"/>
</g>
<line x1="1909" y1="802" x2="1909" y2="937" stroke="#f06060" stroke-dasharray="4,2" stroke-width="1"/>
<rect x="1923" y="804" width="72" height="13" fill="#fff" stroke="#ddd" stroke-width="0.6"/><line x1="1927" y1="811" x2="1940" y2="811" stroke="#f06060" stroke-dasharray="4,2"/><text x="1947" y="813">Avg: 1.61h</text>
<g text-anchor="end"><text x="1835" y="818">Sephora</text><text x="1835" y="834">Dianping</text><text x="1835" y="850">WikiRevision</text><text x="1835" y="865">WikiLife</text><text x="1835" y="881">IMDB</text><text x="1835" y="897">WeiboTech</text><text x="1835" y="913">WeiboDaily</text><text x="1835" y="928">Cora</text></g>
<text x="1904" y="818">1.55</text><text x="1920" y="834">1.73</text><text x="1870" y="850">1.16</text><text x="1909" y="865">1.61</text><text x="1891" y="881">1.41</text><text x="1946" y="897">2.15</text><text x="1918" y="913">1.70</text><text x="1909" y="928">1.60</text>
<g text-anchor="middle"><text x="1856" y="946">1.0</text><text x="1900" y="946">1.5</text><text x="1944" y="946">2.0</text><text x="1988" y="946">2.5</text><text x="1916" y="955">Time (hours)</text></g>

<text x="2135" y="800" text-anchor="middle" font-size="8">IDGG Task (2,000 edges)</text>
<rect x="2055" y="802" width="160" height="135" fill="#fff" stroke="#888" stroke-width="0.8"/>
<g fill="#8ed1ef">
<rect x="2055" y="809" width="96" height="13"/><rect x="2055" y="825" width="109" height="13"/><rect x="2055" y="841" width="85" height="13"/><rect x="2055" y="856" width="38" height="13"/><rect x="2055" y="872" width="56" height="13"/><rect x="2055" y="888" width="45" height="13"/><rect x="2055" y="904" width="23" height="13"/><rect x="2055" y="919" width="85" height="13"/>
</g>
<line x1="2123" y1="802" x2="2123" y2="937" stroke="#f06060" stroke-dasharray="4,2" stroke-width="1"/>
<rect x="2143" y="862" width="70" height="14" fill="#fff" stroke="#ddd" stroke-width="0.6"/><line x1="2147" y1="869" x2="2160" y2="869" stroke="#f06060" stroke-dasharray="4,2"/><text x="2167" y="872">Avg: 1.11h</text>
<g text-anchor="end"><text x="2053" y="818">Sephora</text><text x="2053" y="834">Dianping</text><text x="2053" y="850">WikiRevision</text><text x="2053" y="865">WikiLife</text><text x="2053" y="881">IMDB</text><text x="2053" y="897">WeiboTech</text><text x="2053" y="913">WeiboDaily</text><text x="2053" y="928">Cora</text></g>
<text x="2155" y="818">1.37</text><text x="2168" y="834">1.49</text><text x="2144" y="850">1.27</text><text x="2097" y="865">0.84</text><text x="2115" y="881">1.00</text><text x="2104" y="897">0.90</text><text x="2082" y="913">0.70</text><text x="2144" y="928">1.27</text>
<g text-anchor="middle"><text x="2056" y="946">0.50</text><text x="2084" y="946">0.75</text><text x="2111" y="946">1.00</text><text x="2139" y="946">1.25</text><text x="2166" y="946">1.50</text><text x="2194" y="946">1.75</text><text x="2135" y="955">Time (hours)</text></g>
</g>
<text x="1711" y="982" font-size="14" fill="#222" textLength="595" lengthAdjust="spacingAndGlyphs">Figure 8: The time required to generate DyTAGs under TDGG (10,000 edges) and IDGG task (2,000 edges)</text>
<text x="1711" y="998" font-size="14" fill="#222" textLength="290" lengthAdjust="spacingAndGlyphs">from a 1,000-edge seed graph across GDGB datasets.</text>
<rect x="1671" y="1018" width="685" height="85" rx="6" fill="#e3f0fb"/>
<g font-size="17" fill="#222">
<text x="1681" y="1041" fill="#2e7d32" font-weight="bold" font-size="19">✓</text><text x="1705" y="1041" textLength="358" lengthAdjust="spacingAndGlyphs">6/8 datasets satisfy power-law validity in TDGG.</text>
<text x="1681" y="1067" fill="#2e7d32" font-weight="bold" font-size="19">✓</text><text x="1700" y="1067" textLength="574" lengthAdjust="spacingAndGlyphs">Memory &amp; Reflection significantly improve textual quality and graph embeddings.</text>
<text x="1681" y="1091" fill="#2e7d32" font-weight="bold" font-size="19">✓</text><text x="1700" y="1091" textLength="590" lengthAdjust="spacingAndGlyphs">Relatively efficient graph generation performance, yet further optimization is needed.</text>
</g>

<!-- KEY INSIGHTS -->
<rect x="1673" y="1229" width="685" height="55" rx="4" fill="#eef3fd"/>
<rect x="1673" y="1289" width="685" height="55" rx="4" fill="#eef3fd"/>
<rect x="1673" y="1349" width="685" height="55" rx="4" fill="#eef3fd"/>
<rect x="1673" y="1409" width="685" height="54" rx="4" fill="#eef3fd"/>
<rect x="1673" y="1469" width="685" height="54" rx="4" fill="#fff1de"/>
<g font-size="13.5" fill="#333">
<text x="1693" y="1262" textLength="457" lengthAdjust="spacingAndGlyphs"><tspan font-weight="bold" fill="#1a237e">Structural–Textual Interplay:</tspan> Both structural and textual features are crucial.</text>
<text x="1693" y="1311" textLength="645" lengthAdjust="spacingAndGlyphs"><tspan font-weight="bold" fill="#1a237e">Memory &amp; Reflection Matter:</tspan> Node memory and reflection mechanisms significantly improve textual quality</text>
<text x="1693" y="1331" textLength="291" lengthAdjust="spacingAndGlyphs">and graph embeddings across all LLM backbones.</text>
<text x="1693" y="1371" textLength="627" lengthAdjust="spacingAndGlyphs"><tspan font-weight="bold" fill="#1a237e">Hub Node Emergence:</tspan> IDGG generates hub nodes with divergent but plausible attributes — e.g., emerging</text>
<text x="1693" y="1391" textLength="294" lengthAdjust="spacingAndGlyphs">products in e-commerce vs. established bestsellers.</text>
<text x="1693" y="1431" textLength="622" lengthAdjust="spacingAndGlyphs"><tspan font-weight="bold" fill="#1a237e">Data Augmentation Value:</tspan> IDGG-generated graphs boost inductive link prediction (ΔAP up to +0.108) —</text>
<text x="1693" y="1451" textLength="188" lengthAdjust="spacingAndGlyphs">valuable for cold-start scenarios.</text>
<text x="1693" y="1491" textLength="643" lengthAdjust="spacingAndGlyphs"><tspan font-weight="bold" fill="#1a237e">Future Directions:</tspan> Improve node generation strategies, adaptive sampling, and leverage DGNNs for candidate</text>
<text x="1693" y="1511" textLength="496" lengthAdjust="spacingAndGlyphs">node retrieval and ranking. Keep on exploring generative graph learning with GDGB!</text>
</g>

<!-- FOOTER -->
<rect x="0" y="1610" width="2490" height="50" fill="#2e5799"/>
<circle cx="90" cy="1634" r="11" fill="#fff"/><circle cx="90" cy="1633" r="6" fill="#2e5799"/><rect x="87" y="1638" width="6" height="7" fill="#2e5799"/>
<g font-size="19" fill="#a8d0ff">
<text x="111" y="1641" fill="#dbe9ff" textLength="296" lengthAdjust="spacingAndGlyphs">github.com/Lucas-PJ/GDGB-ALGO</text>
<text x="1140" y="1641" textLength="213" lengthAdjust="spacingAndGlyphs">Contact: peng_jie@ruc.edu.cn</text>
<text x="2180" y="1641" textLength="254" lengthAdjust="spacingAndGlyphs">GDGB Website: gdgb-algo.github.io</text>
</g>
<path d="M1204,1648 l3,-3 l3,3 l3,-3 l3,3 l3,-3 l3,3 l3,-3 l3,3 l3,-3 l3,3 l3,-3 l3,3 l3,-3 l3,3 l3,-3 l3,3 l3,-3 l3,3 l3,-3 l3,3 l3,-3 l3,3 l3,-3 l3,3 l3,-3 l3,3 l3,-3 l3,3 l3,-3 l3,3 l3,-3 l3,3 l3,-3 l3,3 l3,-3 l3,3 l3,-3 l3,3 l3,-3 l3,3 l3,-3 l3,3 l3,-3 l3,3 l3,-3 l3,3" stroke="#e00" stroke-width="1.2" fill="none"/>
</svg>
</body></html>
